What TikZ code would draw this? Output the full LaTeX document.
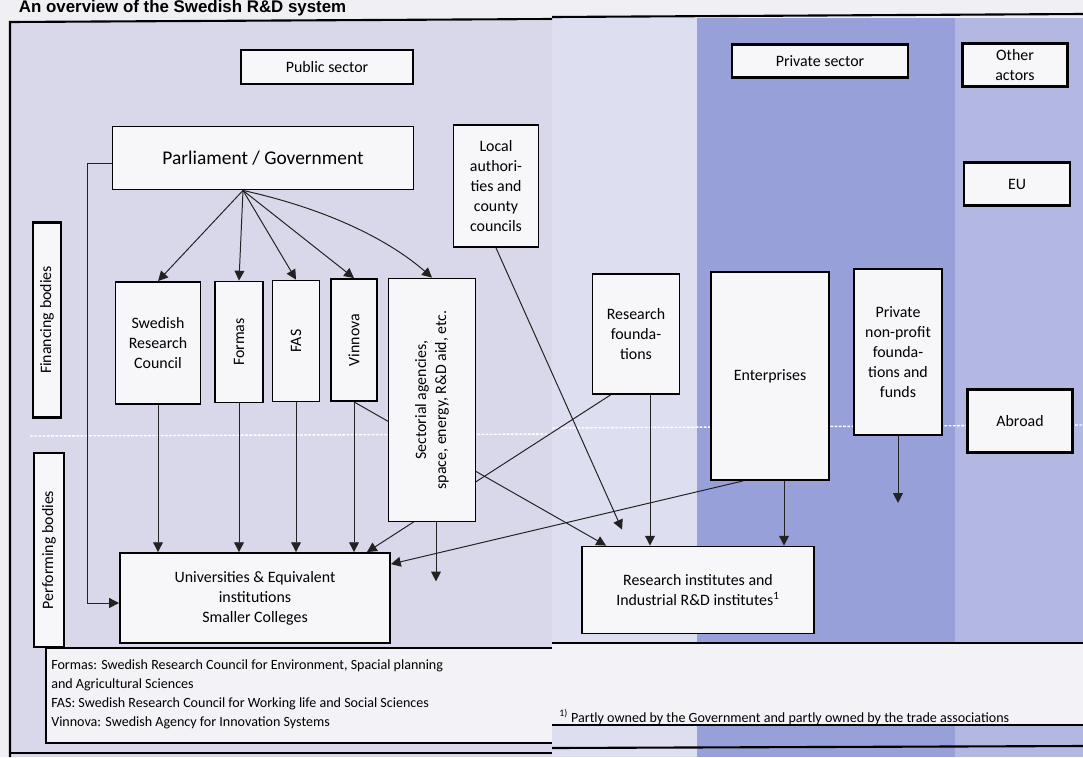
\documentclass[tikz,border=0pt]{standalone}
\usepackage{fontspec}
\setmainfont{Carlito}
\newfontfamily\titlefont{Liberation Sans}
\usetikzlibrary{positioning,arrows.meta,calc}

\definecolor{paper}{HTML}{F0F0F4}
\definecolor{pubA}{HTML}{D8D8EA}
\definecolor{pubB}{HTML}{DDDEEF}
\definecolor{privcol}{HTML}{97A0D8}
\definecolor{othcol}{HTML}{B3B8E3}
\definecolor{boxfill}{HTML}{F7F7FA}
\definecolor{notecol}{HTML}{F3F3F7}
\definecolor{linecol}{HTML}{222222}

\begin{document}
\begin{tikzpicture}[x=0.025cm, y=-0.025cm,
	% Define styles for the boxes and the arrows
	wh/.style 2 args={minimum width=#1*0.025cm, minimum height=#2*0.025cm},
	box/.style={draw, line width=1.3pt, fill=boxfill, inner sep=1pt, align=center, font=\fontsize{11.3}{14.2}\selectfont},
	head box/.style={box, line width=2pt},
	side text/.style={rotate=90, align=center, font=\fontsize{11.3}{14.2}\selectfont},
	link/.style={line width=0.7pt, draw=linecol},
	arr/.style={link, -{Triangle[length=7pt,width=7pt]}},
	frame/.style={line width=1.5pt, black}
	]
	\useasboundingbox (0,0) rectangle (1083,757);
	
	% --- Sector bands ---
	\fill[paper] (0,0) rectangle (1083,757);
	\fill[pubA] (10,21) rectangle (552,757);
	\fill[pubB] (552,18) rectangle (697,757);
	\fill[privcol] (697,18) rectangle (955,757);
	\fill[othcol] (955,18) rectangle (1083,757);
	\fill[notecol] (46,648) rectangle (552,743);
	\fill[notecol] (552,643) rectangle (1083,725);
	\draw[frame] (10,757) -- (10,22) -- (552,19);
	\draw[frame] (552,17) -- (1083,14);
	\draw[white, line width=1pt, dash pattern=on 2pt off 1pt] (30,436) -- (552,434) (552,428) -- (1083,425);
	
	\node[anchor=base west, font=\titlefont\bfseries\fontsize{12}{14}\selectfont] (title) at (14,12) {An overview of the Swedish R\&D system};
	
	% --- Boxes ---
	\node[head box, wh={172}{34}] (pub) at (327,67) {Public sector};
	\node[head box, wh={176}{33}] (priv) at (820,61) {Private sector};
	\node[head box, wh={105}{43}] (other) at (1015,65) {Other\\actors};
	\node[head box, wh={106}{43}] (eu) at (1017,184) {EU};
	\node[box, wh={301}{63}, font=\fontsize{13.8}{16}\selectfont] (parl) at (263,158) {Parliament / Government};
	\node[box, wh={85}{122}] (local) at (496,186) {Local\\authori-\\ties and\\county\\councils};
	\node[head box, wh={28}{195}] (fin) at (47,320) {};
	\node[side text] (fintext) at (fin) {Financing bodies};
	\node[head box, wh={30}{194}] (perf) at (49,550) {};
	\node[side text] (perftext) at (perf) {Performing bodies};
	\node[box, wh={85}{122}] (src) at (158,343) {Swedish\\Research\\Council};
	\node[box, wh={48}{121}] (formas) at (239,342) {};
	\node[side text] (formastext) at (formas) {Formas};
	\node[box, wh={47}{121}] (fas) at (296,341) {};
	\node[side text] (fastext) at (fas) {FAS};
	\node[box, wh={46}{122}] (vinnova) at (354,340) {};
	\node[side text] (vinnovatext) at (vinnova) {Vinnova};
	\node[box, wh={270}{90}] (uni) at (255,598) {Universities \& Equivalent\\institutions\\Smaller Colleges};
	\node[box, wh={87}{120}] (rf) at (636,334) {Research\\founda-\\tions};
	\node[box, wh={118}{208}] (ent) at (770,376) {Enterprises};
	\node[box, wh={88}{166}] (np) at (898,352) {Private\\non-profit\\founda-\\tions and\\funds};
	\node[head box, wh={105}{63}] (abroad) at (1020,421) {Abroad};
	\node[box, wh={232}{87}] (ri) at (698,590) {Research institutes and\\Industrial R\&D institutes\textsuperscript{1}};
	
	% lines that run behind the sectorial agencies
	\draw[arr] (vinnova.south) -- ($(ri.north west)+(25,0)$);
	\draw[arr] ($(rf.south west)+(19,0)$) -- ($(uni.north east)+(-24,0)$);
	\node[box, wh={87}{243}] (sec) at (432,400) {};
	\node[side text] (sectext) at (sec) {Sectorial agencies,\\space, energy, R\&D aid, etc.};
	
	% --- Draw the edges ---
	\coordinate (pg) at ($(parl.south)+(-20,0)$);
	\foreach \n in {src,formas,fas,vinnova} {
		\draw[arr] (pg) -- (\n.north);
		\draw[arr] (\n) -- (\n |- uni.north);
	}
	\draw[arr] (pg) .. controls ($(pg)+(90,20)$) and ($(sec.north)+(-40,-35)$) .. (sec.north);
	\draw[arr] ($(parl.west)+(0,5)$) -- ++(-24,0) |- ($(uni.west)+(0,5)$);
	
	\coordinate (lcend) at ($(ri.north west)+(41,-16)$);
	\draw[arr] (local.south) -- (lcend);
	
	\coordinate (s1) at ($(sec.south)+(4,0)$);
	\coordinate (secend) at ($(s1)+(0,59)$);
	\draw[arr] (s1) -- (secend);
	
	\coordinate (r1) at ($(rf.south)+(14,0)$);
	\draw[arr] (r1) -- (r1 |- ri.north);
	\coordinate (e1) at ($(ent.south)+(14,0)$);
	\draw[arr] (e1) -- (e1 |- ri.north);
	\draw[arr] ($(ent.south west)+(33,0)$) -- ($(uni.north east)+(0,12)$);
	
	\coordinate (npend) at ($(np.south)+(0,67)$);
	\draw[arr] (np) -- (npend);
	
	% --- Footnotes ---
	\draw[frame] (552,648) -- (46,648) -- (46,743) -- (552,743);
	\draw[frame] (10,753) -- (552,753);
	\draw[frame] (552,643) -- (1083,643);
	\draw[frame] (552,725) -- (1083,725);
	\draw[frame] (552,748) -- (1083,746);
	\node[anchor=north west, align=left, inner sep=0pt, font=\fontsize{10}{13.5}\selectfont] (abbr) at (51,659)
		{Formas: Swedish Research Council for Environment, Spacial planning\\
		 and Agricultural Sciences\\
		 FAS: Swedish Research Council for Working life and Social Sciences\\
		 Vinnova: Swedish Agency for Innovation Systems};
	\node[anchor=base west, inner sep=0pt, font=\fontsize{10}{13.5}\selectfont] (owned) at (559,722)
		{\textsuperscript{1)} Partly owned by the Government and partly owned by the trade associations};
\end{tikzpicture}
\end{document}
